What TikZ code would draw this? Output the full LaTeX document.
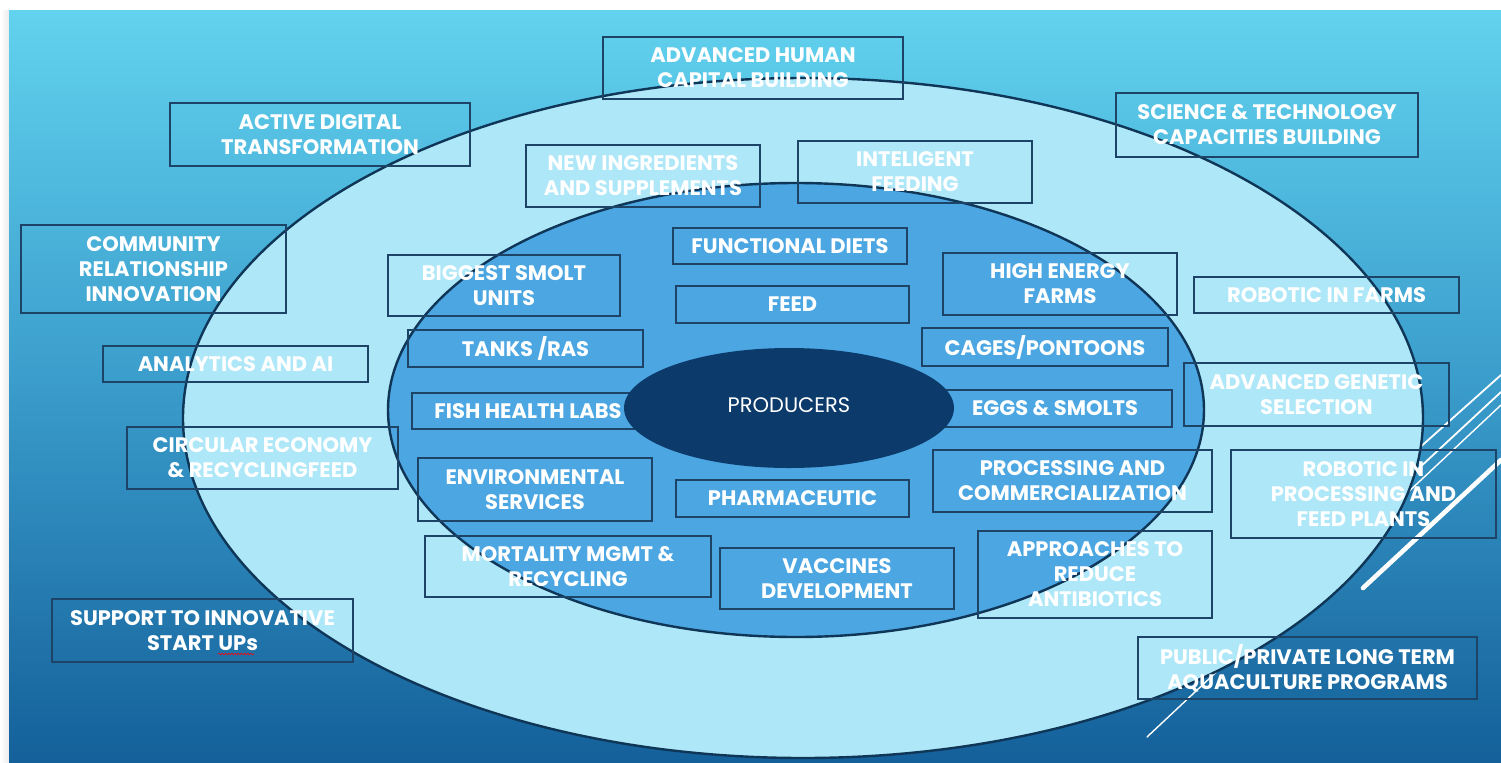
\documentclass[tikz,border=0pt]{standalone}
\usepackage{fontspec}
\setmainfont{Poppins}
\usetikzlibrary{shapes.geometric,decorations.pathmorphing}
\definecolor{bgtop}{HTML}{62D2EE}
\definecolor{bgmid}{HTML}{3A9CCB}
\definecolor{bgbot}{HTML}{14609A}
\definecolor{ringlight}{HTML}{AEE7F7}
\definecolor{ringmid}{HTML}{4BA6E2}
\definecolor{prodfill}{HTML}{0C3A6B}
\definecolor{edge}{HTML}{0F3557}
\definecolor{boxline}{HTML}{1D4466}
\definecolor{margin}{HTML}{ECECEC}
\tikzset{
  pbox/.style={draw=boxline, line width=0.75pt, inner sep=0pt, align=center, text=white,
    font=\fontsize{10.5}{12.5}\selectfont\bfseries},
  ring/.style={ellipse, draw=edge, line width=1.2pt, inner sep=0pt},
  deco/.style={draw=white, line cap=round},
}
\newcommand{\bx}[6]{\node[pbox, minimum width={(#4-#2)*0.5pt}, minimum height={(#5-#3)*0.5pt}] (#1) at ({(#2+#4)/2},{(#3+#5)/2}) {#6};}
\begin{document}
\begin{tikzpicture}[x=0.5pt,y=-0.5pt]
\useasboundingbox (0,0) rectangle (1501,762);
% page margins
\fill[white] (0,0) rectangle (1501,762);
\fill[left color=white, right color=margin] (0,10) rectangle (9,762);
% slide background
\fill[top color=bgtop, bottom color=bgbot, middle color=bgmid] (9,10) rectangle (1501,762);
% decorative lines
\coordinate (la1) at (1147,737); \coordinate (la2) at (1501,405);
\coordinate (lb1) at (1380,483); \coordinate (lb2) at (1501,375);
\coordinate (lc1) at (1390,495); \coordinate (lc2) at (1501,392);
\coordinate (ld1) at (1363,588); \coordinate (ld2) at (1501,460);
\draw[deco, line width=0.7pt] (la1) -- (la2);
\draw[deco, line width=0.9pt] (lb1) -- (lb2);
\draw[deco, line width=0.9pt] (lc1) -- (lc2);
\draw[deco, line width=2.3pt] (ld1) -- (ld2);
% rings
\node[ring, fill=ringlight, minimum width=620pt, minimum height=340pt] (outer) at (803,418) {};
\node[ring, fill=ringmid, minimum width=408pt, minimum height=227pt] (inner) at (796,410) {};
% outer ring boxes
\bx{human}{603}{37}{903}{99}{ADVANCED HUMAN\\CAPITAL BUILDING}
\bx{digital}{170}{103}{470}{166}{ACTIVE DIGITAL\\TRANSFORMATION}
\bx{science}{1116}{93}{1418}{157}{SCIENCE \& TECHNOLOGY\\CAPACITIES BUILDING}
\bx{ingred}{526}{145}{760}{207}{NEW INGREDIENTS\\AND SUPPLEMENTS}
\bx{intel}{798}{141}{1032}{203}{INTELIGENT\\FEEDING}
\bx{community}{21}{225}{286}{313}{COMMUNITY\\RELATIONSHIP\\INNOVATION}
\bx{robfarms}{1194}{277}{1459}{313}{ROBOTIC IN FARMS}
\bx{analytics}{103}{346}{368}{382}{ANALYTICS AND AI}
\bx{genetic}{1184}{363}{1449}{426}{ADVANCED GENETIC\\SELECTION}
\bx{circular}{127}{427}{398}{489}{CIRCULAR ECONOMY\\\& RECYCLINGFEED}
\bx{robproc}{1231}{450}{1496}{538}{ROBOTIC IN\\PROCESSING AND\\FEED PLANTS}
\bx{mortality}{425}{536}{711}{597}{MORTALITY MGMT \&\\RECYCLING}
\bx{antibiotics}{978}{531}{1212}{618}{APPROACHES TO\\REDUCE\\ANTIBIOTICS}
\bx{startups}{52}{599}{353}{662}{SUPPORT TO INNOVATIVE\\START UPs}
\bx{public}{1138}{637}{1477}{699}{PUBLIC/PRIVATE LONG TERM\\AQUACULTURE PROGRAMS}
% inner ring boxes
\bx{diets}{673}{228}{907}{264}{FUNCTIONAL DIETS}
\bx{smolt}{388}{255}{620}{316}{BIGGEST SMOLT\\UNITS}
\bx{energy}{943}{253}{1177}{315}{HIGH ENERGY\\FARMS}
\bx{feed}{676}{286}{909}{323}{FEED}
\bx{tanks}{408}{330}{643}{367}{TANKS /RAS}
\bx{cages}{922}{328}{1168}{366}{CAGES/PONTOONS}
\bx{fishhealth}{412}{393}{644}{429}{FISH HEALTH LABS}
\bx{eggs}{938}{390}{1172}{427}{EGGS \& SMOLTS}
\bx{environ}{418}{458}{652}{521}{ENVIRONMENTAL\\SERVICES}
\bx{pharma}{676}{480}{909}{517}{PHARMACEUTIC}
\bx{processing}{933}{450}{1212}{512}{PROCESSING AND\\COMMERCIALIZATION}
\bx{vaccines}{720}{548}{954}{609}{VACCINES\\DEVELOPMENT}
% spell-check underline
\coordinate (sq1) at (218,654); \coordinate (sq2) at (254,654);
\draw[red, line width=0.3pt, decorate, decoration={snake, amplitude=0.4pt, segment length=1.6pt}] (sq1) -- (sq2);
% producers
\node[ellipse, fill=prodfill, inner sep=0pt, minimum width=165pt, minimum height=60pt,
  text=white, font=\fontsize{10.5}{12.5}\selectfont] (producers) at (789,408) {\raisebox{2.5pt}{PRODUCERS}};
\end{tikzpicture}
\end{document}
